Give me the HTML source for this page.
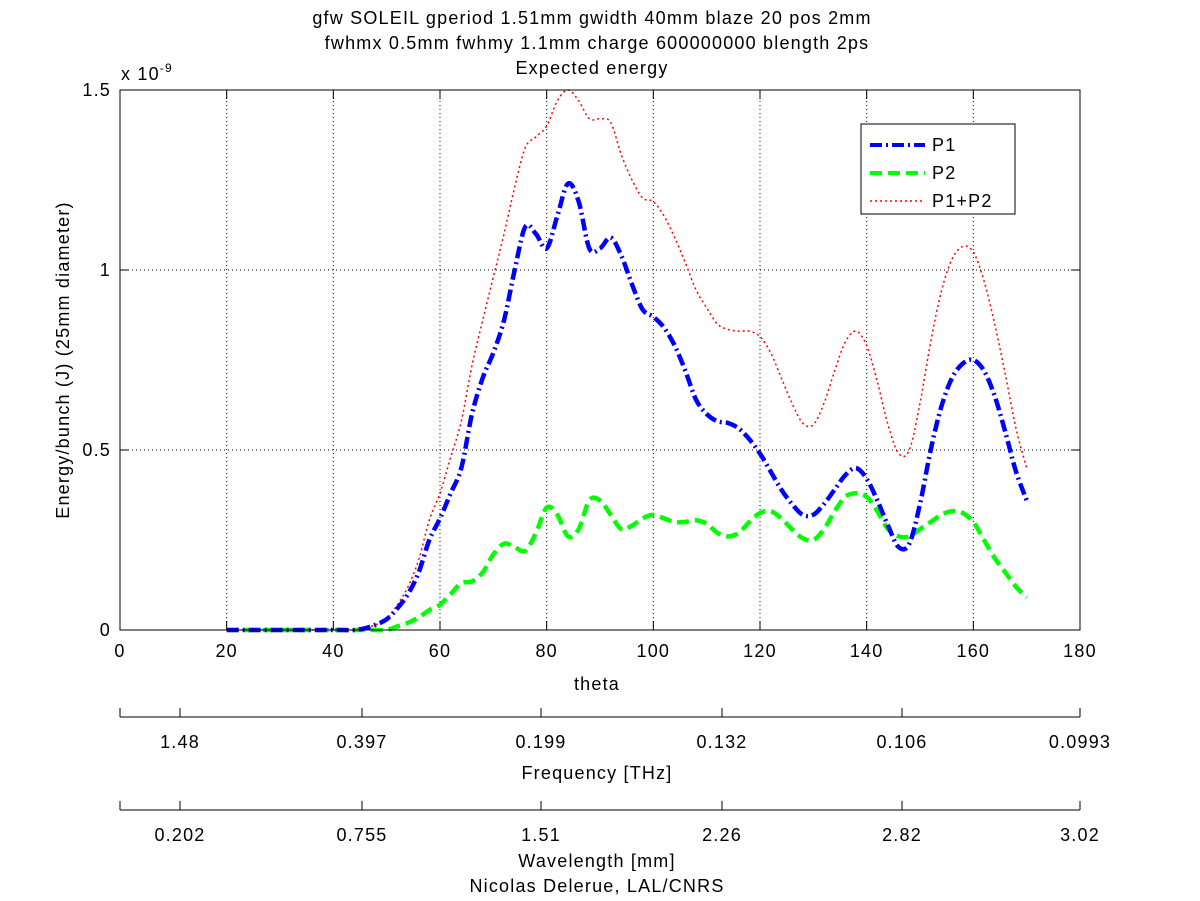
<!DOCTYPE html>
<html><head><meta charset="utf-8"><style>
body{margin:0;background:#fff;}
svg{display:block;font-family:"Liberation Sans",sans-serif;}
svg text{letter-spacing:1.2px;}
</style></head><body>
<svg id="chart" width="1200" height="901" viewBox="0 0 1200 901">
<g font-size="18" text-anchor="middle" fill="#000">
<text x="592" y="24">gfw SOLEIL gperiod 1.51mm gwidth 40mm blaze 20 pos 2mm</text>
<text x="597" y="49">fwhmx 0.5mm fwhmy 1.1mm charge 600000000 blength 2ps</text>
<text x="592" y="74">Expected energy</text>
</g>
<g id="grid"></g>
<g id="series"></g>
<rect x="120" y="90" width="960" height="540" fill="none" stroke="#000" stroke-width="1"/>
<g id="axes" font-size="18"></g>
<text x="121" y="80" font-size="18">x 10<tspan dy="-8" font-size="12">-9</tspan></text>
<text transform="translate(69,360) rotate(-90)" font-size="18" text-anchor="middle">Energy/bunch (J) (25mm diameter)</text>
<text x="597" y="690" font-size="18" text-anchor="middle">theta</text>
<text x="597" y="779" font-size="18" text-anchor="middle">Frequency [THz]</text>
<text x="597" y="867" font-size="18" text-anchor="middle">Wavelength [mm]</text>
<text x="597" y="892" font-size="18" text-anchor="middle">Nicolas Delerue, LAL/CNRS</text>
<g>
<rect x="861" y="124" width="154" height="90" fill="#fff" stroke="#000" stroke-width="1"/>
<line x1="870" y1="145" x2="925" y2="145" stroke="#00f" stroke-width="4" stroke-dasharray="12,4,2,4"/>
<text x="932" y="151" font-size="18">P1</text>
<line x1="870" y1="173" x2="925" y2="173" stroke="#0f0" stroke-width="4" stroke-dasharray="12,6"/>
<text x="932" y="179" font-size="18">P2</text>
<line x1="870" y1="201" x2="925" y2="201" stroke="#f00" stroke-width="1.5" stroke-dasharray="2,3"/>
<text x="932" y="207" font-size="18">P1+P2</text>
</g>
</svg>
<script>
const theta = [20,22,24,26,28,30,32,34,36,38,40,42,44,46,48,50,52,54,56,58,60,62,64,66,68,70,72,74,76,78,80,82,84,86,88,90,92,94,96,98,100,102,104,106,108,110,112,114,116,118,120,122,124,126,128,130,132,134,136,138,140,142,144,146,148,150,152,154,156,158,160,162,164,166,168,170];
const p1 = [0,0,0,0,0,0,0,0,0,0,0,0,0,0.005,0.015,0.03,0.06,0.1,0.16,0.25,0.31,0.38,0.45,0.6,0.7,0.77,0.86,1.0,1.12,1.1,1.06,1.15,1.24,1.19,1.06,1.06,1.09,1.04,0.96,0.89,0.87,0.84,0.79,0.72,0.64,0.6,0.58,0.575,0.56,0.53,0.49,0.44,0.39,0.35,0.32,0.32,0.35,0.39,0.43,0.45,0.42,0.36,0.29,0.23,0.24,0.35,0.5,0.62,0.7,0.74,0.75,0.72,0.65,0.55,0.44,0.36];
const p2 = [0,0,0,0,0,0,0,0,0,0,0,0,0,0,0,0,0.01,0.02,0.035,0.055,0.07,0.1,0.13,0.135,0.16,0.21,0.24,0.23,0.22,0.27,0.34,0.32,0.26,0.28,0.36,0.36,0.32,0.28,0.29,0.31,0.32,0.31,0.3,0.3,0.305,0.295,0.27,0.26,0.27,0.3,0.325,0.33,0.31,0.28,0.255,0.25,0.28,0.33,0.37,0.38,0.37,0.33,0.28,0.26,0.26,0.28,0.3,0.32,0.33,0.325,0.3,0.25,0.2,0.16,0.12,0.09];
const psum = [0,0,0,0,0,0,0,0,0,0,0,0,0,0.005,0.015,0.03,0.07,0.12,0.195,0.305,0.38,0.48,0.58,0.735,0.86,0.98,1.1,1.23,1.34,1.37,1.4,1.47,1.5,1.47,1.42,1.42,1.41,1.32,1.25,1.2,1.19,1.15,1.09,1.02,0.945,0.895,0.85,0.835,0.83,0.83,0.815,0.77,0.7,0.63,0.575,0.57,0.63,0.72,0.8,0.83,0.79,0.69,0.57,0.49,0.5,0.63,0.8,0.94,1.03,1.065,1.05,0.97,0.85,0.71,0.56,0.45];
const xTicks = [0,20,40,60,80,100,120,140,160,180];
const yTicks = [0,0.5,1,1.5];
const yTickLabels = ["0","0.5","1","1.5"];
const freqLabels = ["1.48","0.397","0.199","0.132","0.106","0.0993"];
const waveLabels = ["0.202","0.755","1.51","2.26","2.82","3.02"];

const NS="http://www.w3.org/2000/svg";
const X0=120,X1=1080,Y0=630,Y1=90;
const xs=v=>X0+(v-0)/(180-0)*(X1-X0);
const ys=v=>Y0-(v-0)/(1.5-0)*(Y0-Y1);
function mk(tag,attrs,parent){const e=document.createElementNS(NS,tag);for(const k in attrs)e.setAttribute(k,attrs[k]);parent.appendChild(e);return e;}
const grid=document.getElementById('grid'),axes=document.getElementById('axes'),series=document.getElementById('series');

xTicks.forEach(t=>{
  const x=xs(t);
  if(t>0&&t<180){const g=mk('line',{x1:x,y1:Y0,x2:x,y2:Y1,stroke:'#000','stroke-width':1,'stroke-dasharray':'1,3'},grid);
  
  }
  const a=mk('line',{x1:x,y1:Y0,x2:x,y2:Y0-9,stroke:'#000'},axes);
  
  
  const b=mk('line',{x1:x,y1:Y1,x2:x,y2:Y1+9,stroke:'#000'},axes);
  
  
  const tx=mk('text',{x:x,y:657,'text-anchor':'middle'},axes);tx.textContent=String(t);
  
  
});
yTicks.forEach((t,i)=>{
  const y=ys(t);
  if(t>0&&t<1.5){const g=mk('line',{x1:X0,y1:y,x2:X1,y2:y,stroke:'#000','stroke-width':1,'stroke-dasharray':'1,3'},grid);
  
  }
  const a=mk('line',{x1:X0,y1:y,x2:X0+9,y2:y,stroke:'#000'},axes);
  
  
  const b=mk('line',{x1:X1,y1:y,x2:X1-9,y2:y,stroke:'#000'},axes);
  
  
  const tx=mk('text',{x:111,y:y+6,'text-anchor':'end'},axes);tx.textContent=yTickLabels[i];
  
  
});
[[717,freqLabels,'frequency'],[810,waveLabels,'wavelength']].forEach(([ay,labels,nm])=>{
  const l=mk('line',{x1:X0,y1:ay,x2:X1,y2:ay,stroke:'#000'},axes);
  
  
  const pos=[X0,180,362,541,722,902,X1];
  pos.forEach(px=>{const t=mk('line',{x1:px,y1:ay,x2:px,y2:ay-9,stroke:'#000'},axes);
    
    });
  labels.forEach((s,i)=>{const tx=mk('text',{x:pos[i+1],y:ay+31,'text-anchor':'middle'},axes);tx.textContent=s;
    
    });
});
function path(vals){
  const P=vals.map((v,i)=>[xs(theta[i]),ys(v)]);
  let d='M'+P[0][0].toFixed(1)+','+P[0][1].toFixed(1);
  for(let i=0;i<P.length-1;i++){
    const p0=P[Math.max(0,i-1)],p1=P[i],p2=P[i+1],p3=P[Math.min(P.length-1,i+2)];
    const c1=[p1[0]+(p2[0]-p0[0])/6,p1[1]+(p2[1]-p0[1])/6];
    const c2=[p2[0]-(p3[0]-p1[0])/6,p2[1]-(p3[1]-p1[1])/6];
    d+=' C'+c1[0].toFixed(1)+','+c1[1].toFixed(1)+' '+c2[0].toFixed(1)+','+c2[1].toFixed(1)+' '+p2[0].toFixed(1)+','+p2[1].toFixed(1);
  }
  return d;
}
const s3=mk('path',{d:path(psum),fill:'none',stroke:'#f00','stroke-width':1.5,'stroke-dasharray':'2,3'},series);


const s2=mk('path',{d:path(p2),fill:'none',stroke:'#0f0','stroke-width':4.5,'stroke-dasharray':'12,6'},series);


const s1=mk('path',{d:path(p1),fill:'none',stroke:'#00f','stroke-width':4.5,'stroke-dasharray':'12,4,2,4'},series);


</script>
</body></html>
